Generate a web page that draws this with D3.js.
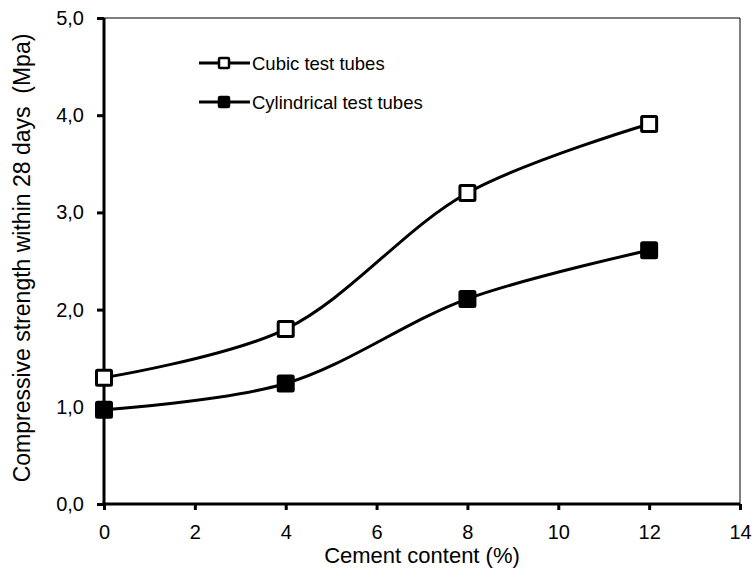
<!DOCTYPE html>
<html><head><meta charset="utf-8">
<script src="https://cdn.jsdelivr.net/npm/d3@7"></script>
<style>body{margin:0;background:#fff}</style>
</head><body>
<script>
const xVals = [0, 4, 8, 12];
const cubic = [1.3, 1.8, 3.2, 3.91];
const cylindrical = [0.97, 1.24, 2.11, 2.61];
const xTicks = [0, 2, 4, 6, 8, 10, 12, 14];
const yTicks = [0, 1, 2, 3, 4, 5];
const seriesNames = ["Cubic test tubes", "Cylindrical test tubes"];

const W = 754, H = 575;
const m = {left: 104, right: 14, top: 18, bottom: 71};
const FF = "'Liberation Sans', Arial, sans-serif";
const svg = d3.select("body").append("svg").attr("width", W).attr("height", H)
  .style("font-family", FF);
const x = d3.scaleLinear().domain([0, 14]).range([m.left, W - m.right]);
const y = d3.scaleLinear().domain([0, 5]).range([H - m.bottom, m.top]);

// frame top/right
svg.append("line").attr("x1", x(0)).attr("x2", x(14)).attr("y1", y(5)).attr("y2", y(5)).attr("stroke", "#000").attr("stroke-width", 1);
svg.append("line").attr("x1", x(14)).attr("x2", x(14)).attr("y1", y(5)).attr("y2", y(0)).attr("stroke", "#000").attr("stroke-width", 1);

const fmt = d => d.toFixed(1).replace(".", ",");
const yAxis = svg.append("g").attr("transform", `translate(${x(0)},0)`)
  .call(d3.axisLeft(y).tickValues(yTicks).tickFormat(fmt).tickSize(7).tickPadding(13));
const xAxis = svg.append("g").attr("transform", `translate(0,${y(0)})`)
  .call(d3.axisBottom(x).tickValues(xTicks).tickFormat(d3.format("d")).tickSize(6).tickPadding(15));
[yAxis, xAxis].forEach(a => {
  a.select(".domain").remove();
  a.selectAll(".tick line").attr("stroke-width", 3);
  a.selectAll("text").attr("font-size", 20).attr("fill", "#000").style("font-family", FF);
});
svg.append("line").attr("x1", x(0)).attr("x2", x(0)).attr("y1", y(5)).attr("y2", y(0) + 1.5).attr("stroke", "#000").attr("stroke-width", 3);
svg.append("line").attr("x1", x(0) - 1.5).attr("x2", x(14)).attr("y1", y(0)).attr("y2", y(0)).attr("stroke", "#000").attr("stroke-width", 3);

// titles
svg.append("text").attr("x", x(7)).attr("y", 563).attr("text-anchor", "middle").attr("font-size", 22).text("Cement content (%)");
svg.append("text").attr("transform", `translate(30,258) rotate(-90)`).attr("text-anchor", "middle")
  .attr("font-size", 23).style("white-space", "pre").attr("xml:space", "preserve")
  .text("Compressive strength within 28 days  (Mpa)");

const line = d3.line().x((d, i) => x(xVals[i])).y(d => y(d)).curve(d3.curveCatmullRom.alpha(0.5));
const series = [{vals: cubic, fill: "#fff"}, {vals: cylindrical, fill: "#000"}];
const sz = 15;
series.forEach(s => {
  svg.append("path").attr("d", line(s.vals)).attr("fill", "none").attr("stroke", "#000").attr("stroke-width", 3);
  svg.selectAll(null).data(s.vals).enter().append("rect")
    .attr("x", (d, i) => x(xVals[i]) - sz / 2).attr("y", d => y(d) - sz / 2)
    .attr("width", sz).attr("height", sz).attr("rx", 1)
    .attr("fill", s.fill).attr("stroke", "#000").attr("stroke-width", 3);
});

// legend
const lg = [{y: 63, fill: "#fff"}, {y: 102, fill: "#000"}];
lg.forEach((l, i) => {
  svg.append("line").attr("x1", 199).attr("x2", 250).attr("y1", l.y).attr("y2", l.y).attr("stroke", "#000").attr("stroke-width", 3);
  svg.append("rect").attr("x", 219).attr("y", l.y - 5).attr("width", 10).attr("height", 10).attr("rx", 1)
    .attr("fill", l.fill).attr("stroke", "#000").attr("stroke-width", 2.5);
  svg.append("text").attr("x", 252).attr("y", l.y + 7).attr("font-size", 18.5).text(seriesNames[i]);
});
</script>
</body></html>
